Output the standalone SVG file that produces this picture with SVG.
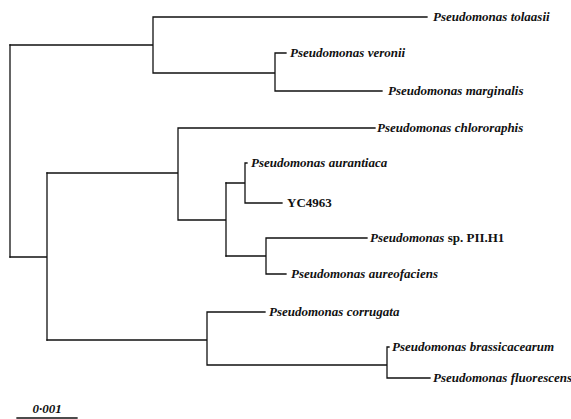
<svg xmlns="http://www.w3.org/2000/svg" width="571" height="419" viewBox="0 0 571 419">
<style>
.br{fill:none;stroke:#111;stroke-width:1.3;stroke-linecap:square}
.lb{font-family:"Liberation Serif","Times New Roman",serif;font-size:13px;font-weight:bold;font-style:italic;fill:#111}
.up{font-style:normal}
</style>
<rect width="571" height="419" fill="#fff"/>
<g id="connectors" class="br">
<path d="M10,45V257"/>
<path d="M10,45H153M153,17V73M153,17H427M153,73H275M275,53V91M275,53H286M275,91H382"/>
<path d="M10,257H47M47,173V340"/>
<path d="M47,173H178M178,128V220M178,128H375M178,220H226M226,183V256"/>
<path d="M226,183H245M245,163V203M245,163H247M245,203H282"/>
<path d="M226,256H266M266,238V274M266,238H367M266,274H286"/>
<path d="M47,340H207M207,312V365M207,312H265M207,365H387M387,347V378M387,347H389M387,378H430"/>
<path d="M17,418H77"/>
</g>
<g id="tolaasii"><text class="lb" x="433" y="21">Pseudomonas tolaasii</text></g>
<g id="veronii"><text class="lb" x="290" y="57">Pseudomonas veronii</text></g>
<g id="marginalis"><text class="lb" x="388" y="95">Pseudomonas marginalis</text></g>
<g id="chlororaphis"><text class="lb" x="377" y="132">Pseudomonas chlororaphis</text></g>
<g id="aurantiaca"><text class="lb" x="251" y="167">Pseudomonas aurantiaca</text></g>
<g id="yc4963"><text class="lb up" x="287" y="207">YC4963</text></g>
<g id="pii"><text class="lb" x="370" y="242">Pseudomonas<tspan class="up"> sp. PII.H1</tspan></text></g>
<g id="aureofaciens"><text class="lb" x="291" y="278">Pseudomonas aureofaciens</text></g>
<g id="corrugata"><text class="lb" x="269" y="316">Pseudomonas corrugata</text></g>
<g id="brassicacearum"><text class="lb" x="392" y="351">Pseudomonas brassicacearum</text></g>
<g id="fluorescens"><text class="lb" x="433" y="382" font-size="12.5">Pseudomonas fluorescens</text></g>
<g id="scale"><text class="lb" x="47" y="413" text-anchor="middle" font-size="11">0·001</text></g>
</svg>
